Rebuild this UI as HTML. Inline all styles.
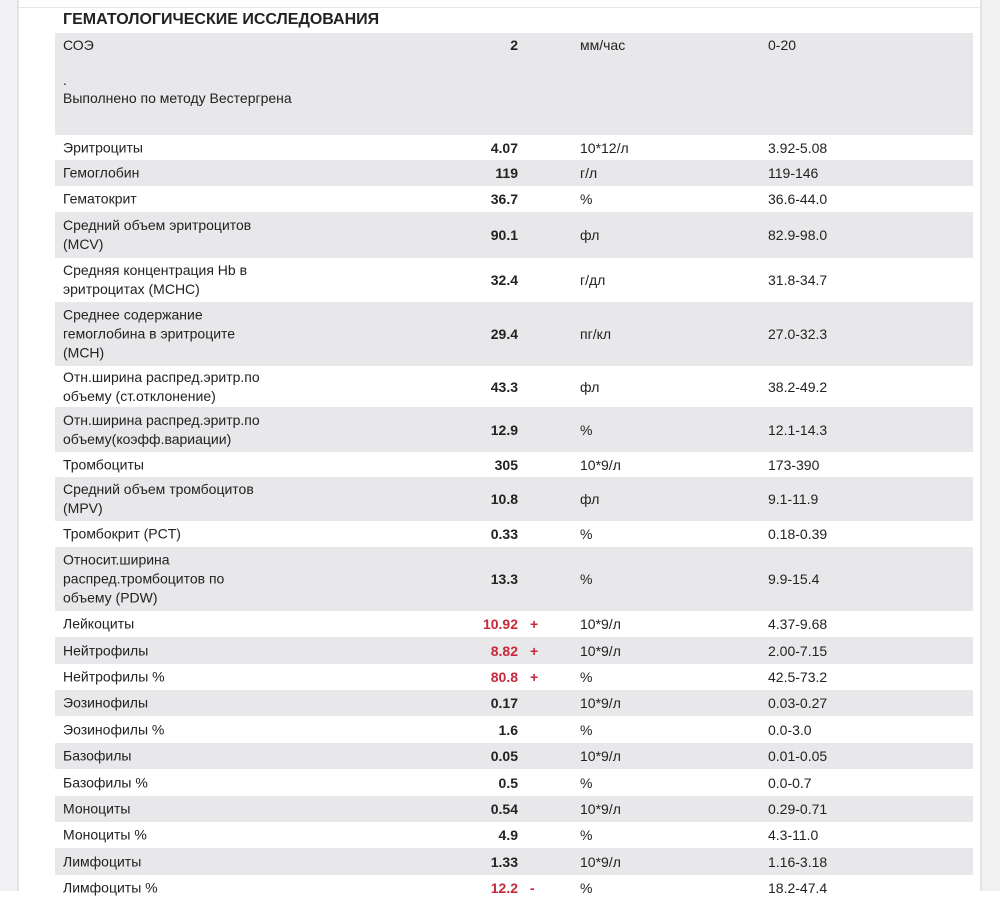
<!DOCTYPE html><html><head><meta charset="utf-8"><style>
body{margin:0;width:1000px;height:891px;overflow:hidden;background:#fff;font-family:"Liberation Sans","DejaVu Sans",sans-serif;color:#222;position:relative}
.ls{position:absolute;left:0;top:0;width:17px;height:891px;background:#f1f1f3;border-right:2px solid #e2e2e4}
.rs{position:absolute;left:980px;top:0;width:20px;height:891px;background:#f1f1f3;border-left:2px solid #e2e2e4}
.tl{position:absolute;left:19px;top:7px;width:961px;height:1px;background:#e6e6e8}
.t{position:absolute;left:63px;top:11px;font-weight:bold;font-size:16px;letter-spacing:0px}
.r{position:absolute;left:55px;width:918px;font-size:14px}
.g{background:#e8e8ea}
.r div{position:absolute;top:50%;transform:translateY(-50%)}
.n{left:8px;line-height:19px;width:240px}
.v{right:455px;font-weight:bold;text-align:right}
.red{color:#c8283c}
.p{left:475px;color:#c8283c;font-weight:bold}
.u{left:525px}
.rg{left:713px}
</style></head><body>
<div class="ls"></div><div class="rs"></div><div class="tl"></div>
<div class="t">ГЕМАТОЛОГИЧЕСКИЕ ИССЛЕДОВАНИЯ</div>
<div class="r g" style="top:33px;height:102px"><div class="n" style="top:4px;transform:none;line-height:17.5px">СОЭ<br><br>.<br>Выполнено по методу Вестергрена</div><div class="v" style="top:4px;transform:none">2</div><div class="u" style="top:4px;transform:none">мм/час</div><div class="rg" style="top:4px;transform:none">0-20</div></div>
<div class="r" style="top:135px;height:25px"><div class="n">Эритроциты</div><div class="v">4.07</div><div class="u">10*12/л</div><div class="rg">3.92-5.08</div></div>
<div class="r g" style="top:160px;height:26px"><div class="n">Гемоглобин</div><div class="v">119</div><div class="u">г/л</div><div class="rg">119-146</div></div>
<div class="r" style="top:186px;height:26px"><div class="n">Гематокрит</div><div class="v">36.7</div><div class="u">%</div><div class="rg">36.6-44.0</div></div>
<div class="r g" style="top:212px;height:46px"><div class="n" style="width:205px">Средний объем эритроцитов (MCV)</div><div class="v">90.1</div><div class="u">фл</div><div class="rg">82.9-98.0</div></div>
<div class="r" style="top:258px;height:44px"><div class="n">Средняя концентрация Hb в эритроцитах (MCHC)</div><div class="v">32.4</div><div class="u">г/дл</div><div class="rg">31.8-34.7</div></div>
<div class="r g" style="top:302px;height:64px"><div class="n" style="width:200px">Среднее содержание гемоглобина в эритроците (MCH)</div><div class="v">29.4</div><div class="u">пг/кл</div><div class="rg">27.0-32.3</div></div>
<div class="r" style="top:366px;height:41px"><div class="n" style="width:225px">Отн.ширина распред.эритр.по объему (ст.отклонение)</div><div class="v">43.3</div><div class="u">фл</div><div class="rg">38.2-49.2</div></div>
<div class="r g" style="top:407px;height:45px"><div class="n" style="width:225px">Отн.ширина распред.эритр.по объему(коэфф.вариации)</div><div class="v">12.9</div><div class="u">%</div><div class="rg">12.1-14.3</div></div>
<div class="r" style="top:452px;height:25px"><div class="n">Тромбоциты</div><div class="v">305</div><div class="u">10*9/л</div><div class="rg">173-390</div></div>
<div class="r g" style="top:477px;height:44px"><div class="n" style="width:205px">Средний объем тромбоцитов (MPV)</div><div class="v">10.8</div><div class="u">фл</div><div class="rg">9.1-11.9</div></div>
<div class="r" style="top:521px;height:26px"><div class="n">Тромбокрит (PCT)</div><div class="v">0.33</div><div class="u">%</div><div class="rg">0.18-0.39</div></div>
<div class="r g" style="top:547px;height:64px"><div class="n" style="width:190px">Относит.ширина распред.тромбоцитов по объему (PDW)</div><div class="v">13.3</div><div class="u">%</div><div class="rg">9.9-15.4</div></div>
<div class="r" style="top:611px;height:26px"><div class="n">Лейкоциты</div><div class="v red">10.92</div><div class="p">+</div><div class="u">10*9/л</div><div class="rg">4.37-9.68</div></div>
<div class="r g" style="top:637px;height:27px"><div class="n">Нейтрофилы</div><div class="v red">8.82</div><div class="p">+</div><div class="u">10*9/л</div><div class="rg">2.00-7.15</div></div>
<div class="r" style="top:664px;height:26px"><div class="n">Нейтрофилы %</div><div class="v red">80.8</div><div class="p">+</div><div class="u">%</div><div class="rg">42.5-73.2</div></div>
<div class="r g" style="top:690px;height:26px"><div class="n">Эозинофилы</div><div class="v">0.17</div><div class="u">10*9/л</div><div class="rg">0.03-0.27</div></div>
<div class="r" style="top:716px;height:27px"><div class="n">Эозинофилы %</div><div class="v">1.6</div><div class="u">%</div><div class="rg">0.0-3.0</div></div>
<div class="r g" style="top:743px;height:26px"><div class="n">Базофилы</div><div class="v">0.05</div><div class="u">10*9/л</div><div class="rg">0.01-0.05</div></div>
<div class="r" style="top:769px;height:27px"><div class="n">Базофилы %</div><div class="v">0.5</div><div class="u">%</div><div class="rg">0.0-0.7</div></div>
<div class="r g" style="top:796px;height:26px"><div class="n">Моноциты</div><div class="v">0.54</div><div class="u">10*9/л</div><div class="rg">0.29-0.71</div></div>
<div class="r" style="top:822px;height:26px"><div class="n">Моноциты %</div><div class="v">4.9</div><div class="u">%</div><div class="rg">4.3-11.0</div></div>
<div class="r g" style="top:848px;height:27px"><div class="n">Лимфоциты</div><div class="v">1.33</div><div class="u">10*9/л</div><div class="rg">1.16-3.18</div></div>
<div class="r" style="top:875px;height:26px"><div class="n">Лимфоциты %</div><div class="v red">12.2</div><div class="p">-</div><div class="u">%</div><div class="rg">18.2-47.4</div></div>
</body></html>
